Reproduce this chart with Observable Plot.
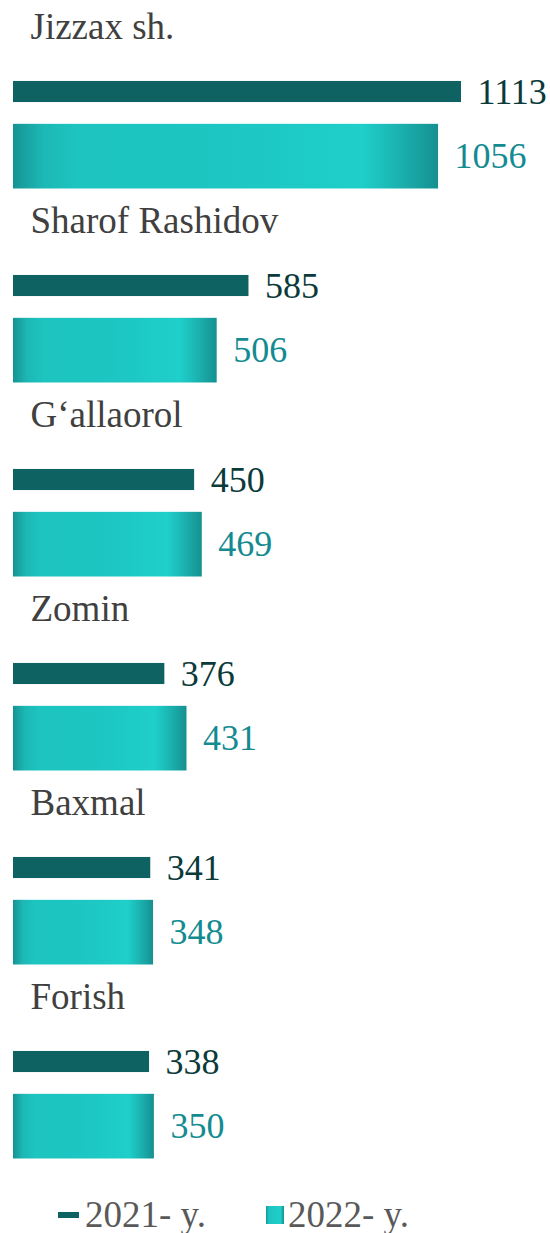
<!DOCTYPE html>
<html><head><meta charset="utf-8">
<script src="https://cdn.jsdelivr.net/npm/d3@7"></script>
<script src="https://cdn.jsdelivr.net/npm/@observablehq/plot@0.6"></script>
<style>
body{margin:0;background:#fff;font-family:'Liberation Serif';}
#legend{display:flex;align-items:center;height:36px;margin-top:22px;padding-left:58px;font-size:28px;color:#595959;font-family:'Liberation Serif';}
#legend .item{display:flex;align-items:center;}
#legend .dash{width:21px;height:6px;background:#0f6262;margin-right:6px;}
#legend .sq{width:18px;height:18px;background:linear-gradient(to right,#169393,#1dc4c0 15%,#1fcfca 80%,#169090);margin-right:4px;}
#legend .lbl{display:inline-block;transform:scale(1.3214);transform-origin:left center;}
</style></head><body><div id="chart"></div><div id="legend"></div>
<script>
const categories = ["Jizzax sh.","Sharof Rashidov","G‘allaorol","Zomin","Baxmal","Forish"];
const values2021 = [1113,585,450,376,341,338];
const values2022 = [1056,506,469,431,348,350];
const seriesNames = ["2021- y.","2022- y."];

const keys = categories.flatMap(c => [c + "|label", c + "|2021", c + "|2022"]);
const labels = categories.map(c => ({name: c, key: c + "|label"}));
const d2021 = categories.map((c, i) => ({key: c + "|2021", value: values2021[i]}));
const d2022 = categories.map((c, i) => ({key: c + "|2022", value: values2022[i]}));
const maxV = d3.max(values2021.concat(values2022));
const serif = "Liberation Serif";

const chart = Plot.plot({
  width: 550,
  height: 1175,
  marginLeft: 13,
  marginRight: 89,
  marginTop: 0,
  marginBottom: 0,
  style: {background: "#fff", overflow: "visible"},
  x: {domain: [0, maxV], axis: null},
  y: {type: "band", domain: keys, range: [-5.5, 1158.5], padding: 0, round: false, axis: null},
  marks: [
    Plot.barX(d2021, {x: "value", y: "key", fill: "#0f6262", insetTop: 21.8, insetBottom: 21.8}),
    Plot.barX(d2022, {x: "value", y: "key", fill: "url(#tealGrad)"}),
    Plot.text(d2021, {x: "value", y: "key", text: d => String(d.value), dx: 16, textAnchor: "start", fill: "#0b3a3a", fontSize: 28, fontFamily: serif, className: "val"}),
    Plot.text(d2022, {x: "value", y: "key", text: d => String(d.value), dx: 16, textAnchor: "start", fill: "#148b91", fontSize: 28, fontFamily: serif, className: "val"}),
    Plot.text(labels, {y: "key", text: "name", frameAnchor: "left", dx: 17, textAnchor: "start", fill: "#404040", fontSize: 28, fontFamily: serif, className: "cat"})
  ]
});

// enlarge glyphs around each text anchor (text drawn at 28px, shown larger)
function enlarge(sel, s) {
  chart.querySelectorAll(sel + " text").forEach(t => {
    const tr = t.getAttribute("transform") || "";
    t.setAttribute("transform", (tr + ` scale(${s})`).trim());
  });
}
enlarge(".val", 36 / 28);
enlarge(".cat", 37 / 28);

const defs = d3.select(chart).insert("defs", ":first-child");
const g = defs.append("linearGradient").attr("id", "tealGrad").attr("x1", 0).attr("x2", 1).attr("y1", 0).attr("y2", 0);
[[0, "#169393"], [0.07, "#1cb8b5"], [0.15, "#1dc4c0"], [0.5, "#1dc6c2"], [0.82, "#1fcfca"], [0.9, "#1bb5b2"], [1, "#159090"]]
  .forEach(([o, c]) => g.append("stop").attr("offset", o).attr("stop-color", c));

document.getElementById("chart").appendChild(chart);

const legend = document.getElementById("legend");
legend.innerHTML =
  `<div class="item" style="width:208px"><div class="dash"></div><span class="lbl">${seriesNames[0]}</span></div>` +
  `<div class="item"><div class="sq"></div><span class="lbl">${seriesNames[1]}</span></div>`;
</script>
</body></html>
